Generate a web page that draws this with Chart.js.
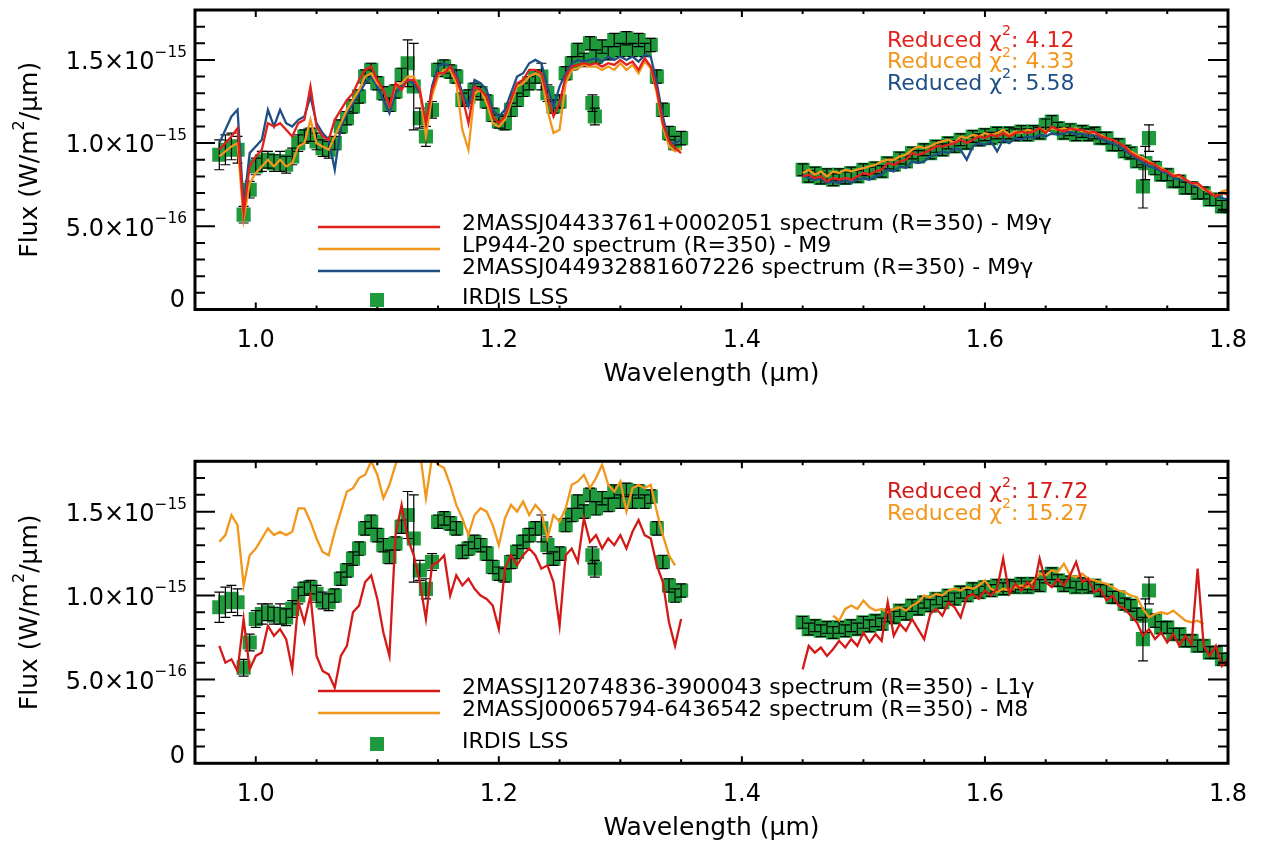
<!DOCTYPE html>
<html>
<head>
<meta charset="utf-8">
<script src="https://cdn.jsdelivr.net/npm/chart.js@4.4.1/dist/chart.umd.min.js"></script>
<style>
  html, body { margin: 0; background: #fff; }
  body { width: 1263px; height: 845px; position: relative; overflow: hidden; }
  canvas { position: absolute; left: 0; }
  #top { top: 0; }
  #bot { top: 400px; }
</style>
</head>
<body>
<canvas id="top" width="1263" height="400" style="width:1263px;height:400px"></canvas>
<canvas id="bot" width="1263" height="445" style="width:1263px;height:445px"></canvas>
<script>
// Flux values are in units of 1e-16 W/m2/um
const waveJ = [
  0.970, 0.975, 0.980, 0.985, 0.990, 0.995, 1.000, 1.005, 1.010, 1.015,
  1.020, 1.025, 1.030, 1.035, 1.040, 1.045, 1.050, 1.055, 1.060, 1.065,
  1.070, 1.075, 1.080, 1.085, 1.090, 1.095, 1.100, 1.105, 1.110, 1.115,
  1.120, 1.125, 1.130, 1.135, 1.140, 1.145, 1.150, 1.155, 1.160, 1.165,
  1.170, 1.175, 1.180, 1.185, 1.190, 1.195, 1.200, 1.205, 1.210, 1.215,
  1.220, 1.225, 1.230, 1.235, 1.240, 1.245, 1.250, 1.255, 1.260, 1.265,
  1.270, 1.275, 1.280, 1.285, 1.290, 1.295, 1.300, 1.305, 1.310, 1.315,
  1.320, 1.325, 1.330, 1.335, 1.340, 1.345, 1.350];
const waveH = [
  1.450, 1.455, 1.460, 1.465, 1.470, 1.475, 1.480, 1.485, 1.490, 1.495,
  1.500, 1.505, 1.510, 1.515, 1.520, 1.525, 1.530, 1.535, 1.540, 1.545,
  1.550, 1.555, 1.560, 1.565, 1.570, 1.575, 1.580, 1.585, 1.590, 1.595,
  1.600, 1.605, 1.610, 1.615, 1.620, 1.625, 1.630, 1.635, 1.640, 1.645,
  1.650, 1.655, 1.660, 1.665, 1.670, 1.675, 1.680, 1.685, 1.690, 1.695,
  1.700, 1.705, 1.710, 1.715, 1.720, 1.725, 1.730, 1.735, 1.740, 1.745,
  1.750, 1.755, 1.760, 1.765, 1.770, 1.775, 1.780, 1.785, 1.790, 1.795,
  1.800];

// IRDIS LSS spectrum (same in both panels)
const irdisJ = [
  9.3, 9.6, 9.8, 9.6, 5.7, 7.2, 8.6, 8.9, 9.0, 8.8,
  8.9, 8.7, 9.2, 10.0, 10.4, 10.5, 10.1, 9.7, 9.6, 10.0,
  11.0, 11.5, 12.2, 12.8, 14.0, 14.4, 13.6, 13.0, 12.3, 13.1,
  14.1, 14.8, 13.4, 11.5, 10.4, 12.0, 14.4, 14.6, 14.3, 14.0,
  12.6, 12.8, 13.2, 13.0, 12.5, 11.7, 11.3, 11.2, 12.0, 12.6,
  13.2, 13.6, 14.0, 14.0, 13.0, 12.2, 12.5, 14.2, 14.8, 15.6,
  15.0, 16.0, 15.2, 15.8, 15.4, 16.2, 15.6, 16.3, 15.6, 16.2,
  15.6, 15.9, 14.0, 12.0, 10.6, 10.0, 10.3];
const irdisErrJ = [
  0.9, 0.9, 0.8, 0.8, 0.5, 0.5, 0.5, 0.6, 0.5, 0.5,
  0.6, 0.5, 0.5, 0.5, 0.4, 0.4, 0.5, 0.5, 0.5, 0.4,
  0.4, 0.4, 0.4, 0.4, 0.4, 0.4, 0.4, 0.4, 0.4, 0.4,
  0.4, 1.4, 2.6, 0.6, 0.6, 0.5, 0.4, 0.4, 0.4, 0.4,
  0.4, 0.4, 0.4, 0.4, 0.4, 0.4, 0.4, 0.4, 0.4, 0.4,
  0.4, 0.4, 0.4, 0.8, 0.5, 0.4, 0.4, 0.4, 0.4, 0.4,
  0.4, 0.4, 0.4, 0.4, 0.4, 0.4, 0.4, 0.4, 0.4, 0.4,
  0.4, 0.4, 0.4, 0.4, 0.4, 0.4, 0.4];
const irdisH = [
  8.4, 8.0, 8.2, 7.9, 8.1, 7.8, 8.1, 7.9, 8.2, 8.0,
  8.4, 8.2, 8.5, 8.3, 8.8, 8.7, 9.1, 8.9, 9.4, 9.2,
  9.6, 9.4, 9.8, 9.6, 10.0, 9.8, 10.2, 10.0, 10.4, 10.2,
  10.5, 10.3, 10.6, 10.4, 10.6, 10.5, 10.7, 10.5, 10.7, 10.6,
  11.1, 11.3, 10.9, 10.6, 10.8, 10.5, 10.7, 10.5, 10.6, 10.3,
  10.3, 9.9, 9.9, 9.5, 9.4, 8.9, 7.4, 10.3, 8.5, 8.1,
  8.1, 7.7, 7.7, 7.3, 7.3, 7.0, 7.0, 6.6, 6.6, 6.2,
  6.2];
const irdisErrH = [
  0.35, 0.35, 0.35, 0.35, 0.35, 0.35, 0.35, 0.35, 0.35, 0.35,
  0.35, 0.35, 0.35, 0.35, 0.35, 0.35, 0.35, 0.35, 0.35, 0.35,
  0.35, 0.35, 0.35, 0.35, 0.35, 0.35, 0.35, 0.35, 0.35, 0.35,
  0.35, 0.35, 0.35, 0.35, 0.35, 0.35, 0.35, 0.35, 0.35, 0.35,
  0.35, 0.35, 0.35, 0.35, 0.35, 0.35, 0.35, 0.35, 0.35, 0.35,
  0.35, 0.35, 0.35, 0.35, 0.35, 0.35, 1.3, 0.8, 0.4, 0.35,
  0.35, 0.35, 0.35, 0.35, 0.35, 0.35, 0.35, 0.35, 0.35, 0.35,
  0.35];
// a few off-band points (1.28 um outliers, 1.73 um column)
const extraWave = [1.277, 1.279, 1.732];
const extraFlux = [12.4, 11.6, 8.8];
const extraErr = [0.5, 0.5, 1.0];

// top panel models
const j0443J = [
  9.6, 10.0, 10.4, 10.9, 5.8, 8.6, 9.2, 9.6, 11.2, 11.0,
  11.2, 10.8, 10.4, 11.2, 11.4, 13.4, 11.0, 10.4, 10.2, 11.4,
  12.0, 12.6, 13.0, 13.8, 14.4, 14.6, 13.8, 13.2, 12.2, 13.6,
  13.2, 13.8, 13.8, 13.2, 11.2, 13.2, 14.2, 14.2, 14.6, 13.9,
  12.8, 11.2, 13.4, 13.2, 12.8, 11.6, 11.2, 11.6, 12.6, 13.6,
  13.8, 14.4, 14.4, 14.2, 12.8, 11.6, 12.4, 14.0, 14.6, 14.7,
  14.8, 14.7, 14.8, 14.6, 14.8, 14.7, 15.0, 14.7, 14.9, 14.4,
  15.1, 14.6, 13.2, 11.2, 10.1, 9.7, 9.4];
const j0443H = [
  8.0, 8.1, 7.9, 8.0, 7.7, 7.9, 7.8, 7.9, 7.8, 8.0,
  8.2, 8.1, 8.3, 8.4, 8.8, 8.7, 8.9, 9.0, 9.4, 9.3,
  9.4, 9.6, 9.8, 9.8, 9.9, 10.0, 10.2, 10.0, 10.2, 10.4,
  10.3, 10.5, 10.4, 10.6, 10.4, 10.6, 10.7, 10.6, 10.7, 10.9,
  10.6, 11.0, 10.8, 10.7, 10.9, 10.8, 10.8, 10.6, 10.7, 10.4,
  10.3, 10.2, 10.0, 9.8, 9.4, 9.2, 9.0, 8.8, 8.7, 8.4,
  8.3, 8.0, 8.1, 7.8, 7.6, 7.6, 7.3, 7.0, 6.8, 7.0,
  6.9];
const lp944J = [
  9.2, 9.5, 9.8, 10.0, 5.4, 7.6, 8.2, 8.6, 9.0, 8.6,
  9.0, 8.6, 8.8, 9.8, 10.0, 11.4, 10.0, 9.8, 9.6, 10.4,
  11.2, 12.0, 12.6, 13.2, 14.0, 14.2, 13.6, 13.2, 12.2, 13.4,
  13.6, 14.0, 14.0, 13.2, 10.4, 12.8, 14.0, 14.4, 14.4, 13.6,
  10.8, 9.6, 13.0, 13.2, 12.4, 11.2, 11.0, 11.4, 12.4, 13.4,
  13.6, 14.0, 14.2, 14.0, 12.0, 10.6, 10.8, 13.6, 14.4, 14.5,
  14.7, 14.6, 14.6, 14.4, 14.6, 14.4, 14.8, 14.4, 14.7, 14.2,
  14.9, 14.5, 13.0, 11.0, 9.8, 9.5, 9.7];
const lp944H = [
  8.2, 8.4, 8.1, 8.3, 8.0, 8.3, 8.2, 8.4, 8.3, 8.4,
  8.5, 8.6, 8.7, 8.9, 9.0, 9.0, 9.2, 9.3, 9.6, 9.8,
  9.7, 9.8, 10.0, 10.1, 10.2, 10.0, 10.4, 10.3, 10.5, 10.4,
  10.6, 10.5, 10.6, 10.8, 10.5, 10.7, 10.6, 10.8, 10.7, 10.9,
  10.7, 10.9, 10.8, 10.9, 10.8, 10.9, 10.7, 10.7, 10.6, 10.5,
  10.3, 10.2, 10.0, 9.8, 9.5, 9.3, 9.1, 8.9, 8.7, 8.5,
  8.3, 8.1, 8.0, 7.8, 7.6, 7.5, 7.2, 7.1, 6.8, 7.1,
  7.2];
const j0449J = [
  10.0, 10.8, 11.6, 12.0, 6.2, 9.4, 9.8, 10.2, 12.0, 11.0,
  12.0, 11.2, 11.0, 11.4, 11.6, 12.8, 11.2, 10.6, 10.2, 8.4,
  11.0, 11.8, 12.4, 13.0, 13.6, 14.0, 13.4, 12.6, 11.8, 13.0,
  13.4, 13.8, 13.6, 13.0, 11.0, 13.4, 14.6, 14.8, 14.6, 14.2,
  13.0, 12.2, 13.8, 13.6, 13.2, 12.0, 11.6, 12.0, 13.0, 14.0,
  14.2, 14.8, 15.0, 14.8, 13.4, 12.2, 13.4, 14.2, 14.8, 15.0,
  14.9, 15.0, 15.1, 14.9, 15.2, 15.0, 15.2, 15.0, 15.2, 14.9,
  15.3, 15.2, 13.6, 11.6, 10.0, 10.0, 10.2];
const j0449H = [
  8.1, 7.9, 7.8, 7.9, 7.6, 7.7, 7.6, 7.8, 7.6, 7.8,
  7.9, 7.8, 8.0, 8.1, 8.4, 8.3, 8.6, 8.5, 8.9, 8.8,
  8.9, 9.2, 9.3, 9.5, 9.4, 9.7, 9.6, 9.0, 9.8, 10.0,
  9.9, 10.1, 9.5, 10.2, 10.0, 10.3, 10.2, 10.4, 10.3, 10.5,
  10.4, 10.6, 10.5, 10.6, 10.7, 10.5, 10.6, 10.4, 10.5, 10.3,
  10.1, 10.0, 9.8, 9.6, 9.3, 9.1, 8.8, 8.6, 8.5, 8.3,
  8.2, 7.9, 7.8, 7.8, 7.5, 7.4, 7.2, 7.1, 6.8, 6.7,
  6.6];

// bottom panel models
const j1207J = [
  7.0, 6.0, 6.2, 5.5, 8.6, 5.6, 6.4, 6.6, 8.2, 7.6,
  8.0, 7.4, 5.6, 9.6, 8.4, 10.0, 6.4, 5.5, 5.3, 4.5,
  6.4, 7.0, 9.0, 9.4, 10.8, 11.2, 9.8, 7.8, 6.4, 13.6,
  15.4, 13.4, 12.4, 10.8, 8.6, 11.8, 12.0, 12.4, 10.0, 11.2,
  10.6, 11.0, 10.4, 10.0, 9.8, 9.4, 8.0, 11.6, 12.4, 11.8,
  12.4, 12.8, 12.4, 11.6, 11.8, 10.8, 8.2, 12.4, 12.8, 12.0,
  14.6, 13.2, 13.6, 12.8, 13.4, 13.0, 13.6, 12.8, 13.8, 14.5,
  13.6, 13.4, 11.8, 10.8, 8.4, 7.0, 8.6];
const j1207H = [
  5.6, 7.0, 6.6, 6.9, 6.4, 6.8, 7.3, 6.9, 7.4, 7.0,
  7.8, 7.2, 7.7, 7.3, 9.6, 7.6, 8.3, 7.9, 8.6, 8.0,
  7.4, 8.9, 9.2, 8.8, 9.6, 9.3, 8.7, 9.9, 10.1, 9.8,
  10.3, 10.0, 10.4, 12.2, 10.1, 10.7, 10.3, 10.8, 10.4, 12.2,
  10.8, 10.5, 11.0, 10.6, 11.2, 12.0, 10.8, 11.0, 10.2, 10.4,
  9.7, 10.0, 9.4, 9.2, 8.8, 8.4, 7.6, 8.0, 7.4, 7.8,
  7.2, 7.7, 7.0, 7.6, 7.1, 11.6, 7.0, 6.4, 7.0, 5.8,
  6.2];
const j0006J = [
  13.2, 13.6, 14.8, 14.2, 10.6, 12.4, 12.8, 13.4, 14.0, 13.6,
  13.8, 13.6, 13.8, 15.2, 15.2, 14.4, 13.4, 12.6, 12.4, 13.8,
  15.0, 16.2, 16.4, 17.0, 17.2, 18.0, 17.2, 15.8, 16.6, 17.8,
  18.6, 19.0, 18.4, 18.6, 15.8, 18.2, 17.8, 17.6, 16.6, 15.4,
  14.6, 13.6, 14.8, 15.2, 15.0, 14.2, 13.0, 14.6, 15.4, 15.0,
  15.6, 14.8, 15.4, 15.0, 13.4, 14.8, 14.4, 15.2, 16.6, 16.8,
  17.2, 16.4, 17.0, 17.8, 16.6, 16.2, 16.8, 15.0, 16.4, 16.6,
  16.4, 16.6, 15.0, 13.6, 12.4, 11.8, null];
const j0006H = [
  null, null, null, null, null, 8.8, 8.5, 9.2, 9.4, 9.2,
  9.7, 9.3, 9.1, 9.2, 9.0, 9.2, 9.3, 9.1, 9.4, 9.6,
  10.0, 9.9, 10.1, 10.0, 10.3, 10.4, 10.3, 10.5, 10.4, 10.6,
  10.9, 10.4, 10.2, 10.4, 10.3, 10.5, 10.6, 10.5, 10.9, 11.3,
  11.2, 11.5, 11.4, 11.9, 11.2, 11.1, 11.3, 11.0, 10.9, 10.8,
  10.7, 10.5, 10.3, 10.2, 10.0, 9.9, 9.2, 8.7, 8.9, 9.0,
  8.9, 9.1, 8.8, 8.5, 8.4, 8.5, 8.3, null, null, null,
  null];

// axis labels
const xTickVals = [1.0, 1.2, 1.4, 1.6, 1.8];
const xTickText = ['1.0', '1.2', '1.4', '1.6', '1.8'];
const yTickVals = [0, 5, 10, 15];
const yTickBase = ['0', '5.0×10', '1.0×10', '1.5×10'];
const yTickExp = ['', '−16', '−15', '−15'];

const topNames = [
  '2MASSJ04433761+0002051 spectrum (R=350) - M9γ',
  'LP944-20 spectrum (R=350) - M9',
  '2MASSJ044932881607226 spectrum (R=350) - M9γ',
  'IRDIS LSS'];
const botNames = [
  '2MASSJ12074836-3900043 spectrum (R=350) - L1γ',
  '2MASSJ00065794-6436542 spectrum (R=350) - M8',
  'IRDIS LSS'];
const topChi = ['4.12', '4.33', '5.58'];
const botChi = ['17.72', '15.27'];

const RED = '#e3211c', ORANGE = '#f2961c', BLUE = '#1e4f85', DRED = '#d41a16', GREEN = '#1f9a3c';
const FONT = '"DejaVu Sans", sans-serif';

function series(vj, vh) {
  const out = waveJ.map((w, i) => ({ x: w, y: vj[i] }));
  out.push({ x: 1.40, y: null });
  waveH.forEach((w, i) => out.push({ x: w, y: vh[i] }));
  return out;
}

function irdisSet() {
  const data = [], errs = [];
  waveJ.forEach((w, i) => { data.push({ x: w, y: irdisJ[i] }); errs.push(irdisErrJ[i]); });
  waveH.forEach((w, i) => { data.push({ x: w, y: irdisH[i] }); errs.push(irdisErrH[i]); });
  extraWave.forEach((w, i) => { data.push({ x: w, y: extraFlux[i] }); errs.push(extraErr[i]); });
  return {
    label: 'IRDIS LSS', data, errors: errs, pointStyle: 'rect', pointRadius: 10,
    backgroundColor: GREEN, borderColor: GREEN, borderWidth: 0, order: 10,
  };
}

function model(label, color, data, order) {
  return { label, data, showLine: true, borderColor: color, borderWidth: 2.3,
    pointRadius: 0, order, spanGaps: false };
}

// text with superscript parts: [[text, isSup], ...]
function rich(ctx, parts, x, y, align, size) {
  const sub = size * 0.64;
  const w = parts.map(([t, s]) => { ctx.font = (s ? sub : size) + 'px ' + FONT; return ctx.measureText(t).width; });
  const total = w.reduce((a, b) => a + b, 0);
  let cx = align === 'right' ? x - total : align === 'center' ? x - total / 2 : x;
  ctx.textAlign = 'left';
  ctx.textBaseline = 'middle';
  parts.forEach(([t, s], i) => {
    ctx.font = (s ? sub : size) + 'px ' + FONT;
    ctx.fillText(t, cx, s ? y - size * 0.42 : y);
    cx += w[i];
  });
}

// black error bars over the green squares
const errorBars = {
  id: 'errorBars',
  afterDatasetDraw(chart, args) {
    const ds = chart.data.datasets[args.index];
    if (!ds.errors) return;
    const { ctx, scales: { x, y }, chartArea: a } = chart;
    ctx.save();
    ctx.beginPath(); ctx.rect(a.left, a.top, a.right - a.left, a.bottom - a.top); ctx.clip();
    ctx.strokeStyle = '#000'; ctx.lineWidth = 1.2;
    ds.data.forEach((p, i) => {
      const px = x.getPixelForValue(p.x);
      const lo = y.getPixelForValue(p.y - ds.errors[i]);
      const hi = y.getPixelForValue(p.y + ds.errors[i]);
      ctx.beginPath();
      ctx.moveTo(px, lo); ctx.lineTo(px, hi);
      ctx.moveTo(px - 5, lo); ctx.lineTo(px + 5, lo);
      ctx.moveTo(px - 5, hi); ctx.lineTo(px + 5, hi);
      ctx.stroke();
    });
    ctx.restore();
  }
};

function idlFrame(legendRows, chiRows, zeroShift) {
  return {
    id: 'idlFrame',
    afterDraw(chart) {
      const { ctx, chartArea: a, scales: { x, y } } = chart;
      ctx.save();
      ctx.strokeStyle = '#000'; ctx.fillStyle = '#000';
      // ticks, inward on all four sides
      ctx.lineWidth = 2;
      ctx.beginPath();
      for (let k = 20; k <= 35; k++) {
        const px = x.getPixelForValue(k * 0.05), len = k % 4 === 0 ? 7 : 4;
        ctx.moveTo(px, a.bottom); ctx.lineTo(px, a.bottom - len);
        ctx.moveTo(px, a.top); ctx.lineTo(px, a.top + len);
      }
      for (let k = 1; k <= 17; k++) {
        const py = y.getPixelForValue(k), len = k % 5 === 0 ? 20 : 10;
        ctx.moveTo(a.left, py); ctx.lineTo(a.left + len, py);
        ctx.moveTo(a.right, py); ctx.lineTo(a.right - len, py);
      }
      ctx.stroke();
      ctx.lineWidth = 3;
      ctx.strokeRect(a.left, a.top, a.right - a.left, a.bottom - a.top);

      // tick labels
      xTickVals.forEach((v, i) => rich(ctx, [[xTickText[i], false]], x.getPixelForValue(v), a.bottom + 31, 'center', 24));
      yTickVals.forEach((v, i) => {
        const py = y.getPixelForValue(v);
        if (yTickExp[i]) rich(ctx, [[yTickBase[i], false], [yTickExp[i], true]], a.left - 8, py + 3, 'right', 24);
        else rich(ctx, [[yTickBase[i], false]], a.left - 10, py - zeroShift, 'right', 24);
      });

      // axis titles
      rich(ctx, [['Wavelength (μm)', false]], (a.left + a.right) / 2, a.bottom + 65, 'center', 25);
      ctx.save();
      ctx.translate(30, (a.top + a.bottom) / 2);
      ctx.rotate(-Math.PI / 2);
      rich(ctx, [['Flux (W/m', false], ['2', true], ['/μm)', false]], 0, 0, 'center', 25);
      ctx.restore();

      // legend
      legendRows.forEach(r => {
        if (r.square) {
          ctx.fillStyle = GREEN;
          ctx.fillRect(377 - 7, r.y + 2 - 7, 14, 14);
        } else {
          ctx.strokeStyle = r.color; ctx.lineWidth = 2.3;
          ctx.beginPath(); ctx.moveTo(318, r.y + 3); ctx.lineTo(440, r.y + 3); ctx.stroke();
        }
        ctx.fillStyle = '#000';
        rich(ctx, [[r.label, false]], 462, r.y, 'left', 22);
      });

      // reduced chi2
      chiRows.forEach((r, i) => {
        ctx.fillStyle = r.color;
        rich(ctx, [['Reduced χ', false], ['2', true], [': ' + r.value, false]], 887, a.top + 31 + i * 21.5, 'left', 22);
      });
      ctx.restore();
    }
  };
}

function makeChart(id, datasets, padding, frame) {
  return new Chart(document.getElementById(id), {
    type: 'scatter',
    data: { datasets },
    options: {
      responsive: false, animation: false, events: [],
      layout: { padding },
      plugins: { legend: { display: false }, tooltip: { enabled: false } },
      scales: {
        x: { type: 'linear', min: 0.95, max: 1.8, display: false },
        y: { type: 'linear', min: 0, max: 18, display: false },
      },
    },
    plugins: [errorBars, frame],
  });
}

makeChart('top', [
  irdisSet(),
  model(topNames[0], RED, series(j0443J, j0443H), 1),
  model(topNames[1], ORANGE, series(lp944J, lp944H), 2),
  model(topNames[2], BLUE, series(j0449J, j0449H), 3),
], { left: 195, right: 35, top: 6, bottom: 90.5 }, idlFrame([
  { label: topNames[0], color: RED, y: 224 },
  { label: topNames[1], color: ORANGE, y: 246 },
  { label: topNames[2], color: BLUE, y: 268 },
  { label: topNames[3], square: true, y: 298 },
], [
  { value: topChi[0], color: RED },
  { value: topChi[1], color: ORANGE },
  { value: topChi[2], color: BLUE },
], 8.5));

makeChart('bot', [
  irdisSet(),
  model(botNames[0], DRED, series(j1207J, j1207H), 1),
  model(botNames[1], ORANGE, series(j0006J, j0006H), 2),
], { left: 195, right: 35, top: 61.3, bottom: 81.7 }, idlFrame([
  { label: botNames[0], color: DRED, y: 288 },
  { label: botNames[1], color: ORANGE, y: 310 },
  { label: botNames[2], square: true, y: 342 },
], [
  { value: botChi[0], color: DRED },
  { value: botChi[1], color: ORANGE },
], 6.5));
</script>
</body>
</html>
